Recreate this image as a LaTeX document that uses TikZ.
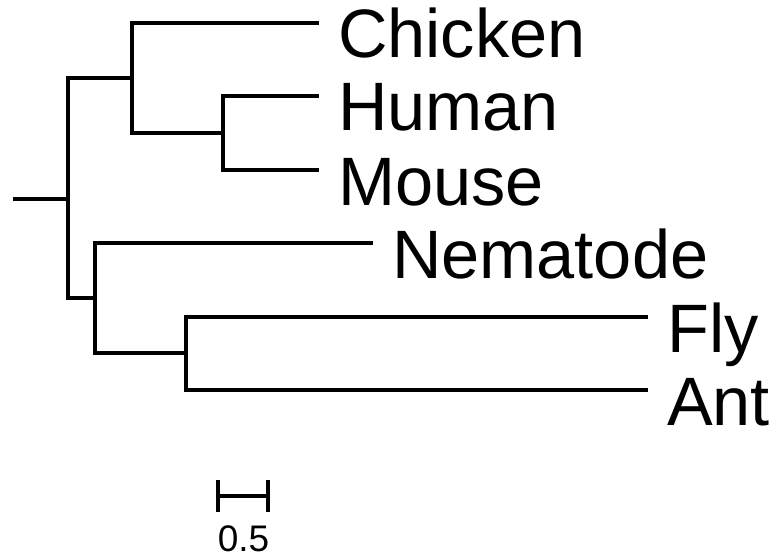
\documentclass[tikz,border=0pt]{standalone}
\usepackage{fontspec}
\setmainfont{Liberation Sans}
\begin{document}
\begin{tikzpicture}[x=1pt,y=-1pt,
  branch/.style={line width=3.2pt,line join=miter,line cap=rect},
  tiplabel/.style={anchor=base west,inner sep=0pt,font=\fontsize{68.5}{80}\selectfont,xshift=21pt,yshift=-35pt},
  scalelabel/.style={anchor=base,inner sep=0pt,font=\fontsize{37}{44}\selectfont}]
\useasboundingbox (0,0) rectangle (773,559);
% internal nodes
\coordinate (rootstart) at (15,199);
\coordinate (root) at (68,199);
\coordinate (A) at (132,78);
\coordinate (B) at (223,133);
\coordinate (C) at (95,298);
\coordinate (D) at (186,353);
% tips
\coordinate (tChicken) at (317,23);
\coordinate (tHuman) at (317,96);
\coordinate (tMouse) at (317,170);
\coordinate (tNematode) at (371,243);
\coordinate (tFly) at (646,317);
\coordinate (tAnt) at (646,390);
% branches
\draw[branch] (rootstart) -- (root);
\draw[branch] (root) |- (A);
\draw[branch] (root) |- (C);
\draw[branch] (A) |- (tChicken);
\draw[branch] (A) |- (B);
\draw[branch] (B) |- (tHuman);
\draw[branch] (B) |- (tMouse);
\draw[branch] (C) |- (tNematode);
\draw[branch] (C) |- (D);
\draw[branch] (D) |- (tFly);
\draw[branch] (D) |- (tAnt);
% labels
\node[tiplabel] (lChicken) at (tChicken) {Chicken};
\node[tiplabel] (lHuman) at (tHuman) {Human};
\node[tiplabel] (lMouse) at (tMouse) {Mouse};
\node[tiplabel] (lNematode) at (tNematode) {Nematode};
\node[tiplabel] (lFly) at (tFly) {Fly};
\node[tiplabel] (lAnt) at (tAnt) {Ant};
% scale bar
\coordinate (s1) at (218,496);
\coordinate (s2) at (268,496);
\draw[branch] (s1) -- (s2);
\draw[branch] ([yshift=14pt]s1) -- ([yshift=-14pt]s1);
\draw[branch] ([yshift=14pt]s2) -- ([yshift=-14pt]s2);
\node[scalelabel] (sl) at (243.5,551) {0.5};
\end{tikzpicture}
\end{document}
